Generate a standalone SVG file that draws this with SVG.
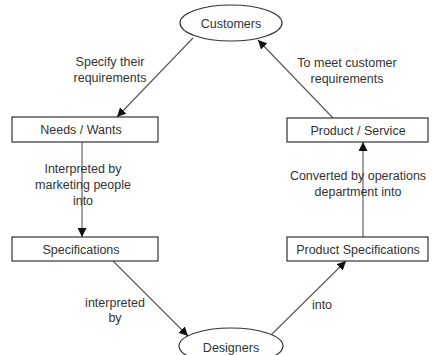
<svg xmlns="http://www.w3.org/2000/svg" width="432" height="355" viewBox="0 0 432 355">
<style>
.box{fill:#fff;stroke:#333;stroke-width:1.2}
.t{font-family:"Liberation Sans",Arial,sans-serif;font-size:12.5px;fill:#333;text-anchor:middle}
.c{stroke:#555;stroke-width:1.1;fill:none;marker-end:url(#ah)}
</style>
<defs>
<marker id="ah" viewBox="0 0 10 10" refX="10" refY="5" markerWidth="9" markerHeight="9" markerUnits="userSpaceOnUse" orient="auto">
<path d="M0,0 L10,5 L0,10 z" fill="#111"/>
</marker>
</defs>
<rect width="432" height="355" fill="#fff"/>
<g id="connectors">
<line class="c" x1="193" y1="38" x2="117" y2="117"/>
<line class="c" x1="82" y1="142" x2="82" y2="237"/>
<line class="c" x1="113" y1="261" x2="188" y2="336"/>
<line class="c" x1="271" y1="335" x2="346" y2="261"/>
<line class="c" x1="363" y1="237" x2="363" y2="142"/>
<line class="c" x1="333" y1="118" x2="258" y2="40"/>
<text class="t" x="110" y="66">Specify their</text>
<text class="t" x="110" y="82">requirements</text>
<text class="t" x="347" y="67">To meet customer</text>
<text class="t" x="347" y="83">requirements</text>
<text class="t" x="83" y="173">Interpreted by</text>
<text class="t" x="83" y="189">marketing people</text>
<text class="t" x="83" y="205">into</text>
<text class="t" x="358" y="180">Converted by operations</text>
<text class="t" x="358" y="196">department into</text>
<text class="t" x="115" y="307">interpreted</text>
<text class="t" x="115" y="322">by</text>
<text class="t" x="322" y="309">into</text>
</g>
<g id="customers">
<ellipse cx="231" cy="23" rx="51" ry="18" fill="#fff" stroke="#333" stroke-width="1.2"/>
<text class="t" x="231" y="28">Customers</text>
</g>
<g id="needs">
<rect class="box" x="12" y="117" width="146" height="25"/>
<text class="t" x="81" y="134">Needs / Wants</text>
</g>
<g id="specifications">
<rect class="box" x="12" y="237" width="146" height="24"/>
<text class="t" x="81" y="254">Specifications</text>
</g>
<g id="designers">
<ellipse cx="231" cy="346" rx="52" ry="18" fill="#fff" stroke="#333" stroke-width="1.2"/>
<text class="t" x="231" y="352">Designers</text>
</g>
<g id="productSpecs">
<rect class="box" x="287" y="237" width="141" height="24"/>
<text class="t" x="358" y="254">Product Specifications</text>
</g>
<g id="productService">
<rect class="box" x="287" y="118" width="141" height="24"/>
<text class="t" x="358" y="135">Product / Service</text>
</g>
</svg>
